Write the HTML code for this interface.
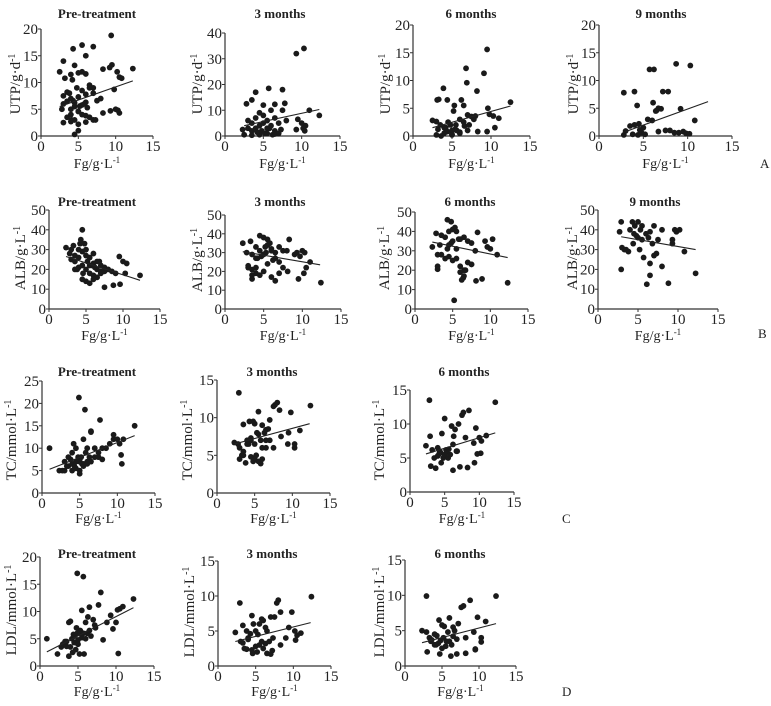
<!DOCTYPE html>
<html><head><meta charset="utf-8"><style>
html,body{margin:0;padding:0;background:#fff}
svg{display:block}
text{font-family:"Liberation Serif",serif;fill:#222}
</style></head><body>
<svg id="fig" width="771" height="706" viewBox="0 0 771 706" xmlns="http://www.w3.org/2000/svg"></svg>
<script>
// ---- data (Fg on x; outcome on y) ----
const A1x=[2.5,3,3.2,4.3,5.5,6,7,9.4,9.5,10.2,12.3,10.5,10.8,9.2,9.8,10,10.5,8.3,8.3,3,3.5,4,4.5,5,5.5,6,6.5,7,3,3.5,4,4.5,5,5.5,6,6.5,7,7.5,8,4,4.5,5,5.5,6,3.5,4,4.5,5,5.5,6,6.5,3,4,5,6,7,4.5,5,5.2,4.8,4.2,5.8,6.2,3.8,4.1,2.8,7.3,9.3,10.3,4.3];
const A1y=[12,14,10.8,16.3,17,15,16.7,18.8,13.3,12,12.6,11,10.8,12.8,8.7,5,4.3,12.5,4.3,7.5,8.2,11.5,13.2,11.8,12,11.6,9.5,9,6,6.5,7,6.2,7.3,8.5,7.8,9,8,6.6,7,5,5.5,4.6,5.8,6.3,3.5,4,3,4.6,4,3.8,3.5,2.5,2.7,2.2,2.6,3,0.3,1,5.6,9,10.5,6,5.3,8,3,5,3,4.7,4.8,6.6];
const A2x=[9.3,10.3,5.7,7.5,4,2.8,3.5,5,6.5,7.8,9.5,10,10.5,11,12.3,2.3,3,3.5,4,4.5,5,5.5,6,6.5,7,7.5,8,3,3.5,4,4.5,5,5.5,6,6.5,7,2.5,3.5,4.5,5.5,6.5,4.8,5.2,5.8,4.2,6.2,9.3,10.2,10.4,7.3];
const A2y=[32,34,18.5,18,17,12.5,14,12,12.3,12.7,6.5,5,4,10,8,2.5,6,5,7,9,8,6,10,7,5,10,6,3,2,3,4,5,3,4,2,1,0.5,0.3,0.5,1,0.8,2,1,3,1.5,0.5,2.5,3,2,2.5];
const A3x=[9.5,6.8,6.9,9.1,8.2,3.9,3.1,3.3,4.4,5.3,5.2,6.2,6.5,12.5,9.6,10.3,11,9.8,2.5,3,3.5,4,4.5,5,5.5,6,6.5,7,7.5,8,3,4,5,6,7,4.2,4.8,5.4,6,3.6,4.4,5,5.6,6.6,10.5,9.5,8.3,7.2,7.8,3.2];
const A3y=[15.6,12.2,9.6,11.3,8.1,8.6,6.5,6.6,6.5,5.5,4.5,6.5,5.5,6.1,5,3.6,3.2,3.9,2.8,2.6,2,1.5,2.5,1,2,3,2.5,3.8,3.5,3.6,0.2,0.5,0.3,0.7,1,1.5,2,1.2,0.5,0,0.8,0.2,1,1.8,1.5,0.8,0.8,2,3,1.2];
const A4x=[2.8,4,4.3,5.7,6.2,6.1,7.2,7.8,8.7,10.3,6.7,6.4,9.2,9.5,10.8,3,3.5,4,4.5,5,5.5,6,6.5,7,7.5,8,8.5,9,9.8,10.2,2.8,3.8,4.8,5.2,6.7,4.4,4.6];
const A4y=[7.8,8,5.5,12,12,6,8,8,13,12.7,5,4.5,4.9,0.8,2.8,0.9,1.8,2,2.2,1.5,3,2.8,4.6,4.9,1,1,0.6,0.6,0.5,0.4,0.2,0.3,0.6,0.3,0.8,0.2,1.1];
const B1x=[2.3,2.8,3,3.3,3.5,4,4.2,4.5,4.3,5,5.5,6,6.5,7,7.5,8,8.5,9,9.5,10,10.5,10.3,12.3,7.5,8.7,9.6,3,3.5,4,4.5,5,5.5,6,6.5,7,3.5,4,4.5,5,5.5,6,6.5,7,7.5,4.5,5,5.5,6,4.8,5.2,5.8,3.8,4.6,6.2,6.8];
const B1y=[31,28,30,32,27,30,33,40,35,30,26,28,24,22,21,20,19,18,26.5,24,23,18,17,11,12,12.5,25,24,26,29,27,22,23,20,19,20,21,22,20,18,17,16,18,19,15,14,13,15,33,24,22,20,18,21,24];
const B2x=[2.3,2.8,3,3.3,3.5,4,4.5,5,5.5,6,6.5,7,7.5,8,8.3,9,9.3,9.7,10,10.3,10.5,11,12.4,3,3.5,4,4.5,5,5.5,6,6.5,7,7.5,3.5,4,4.5,5,5.5,6,6.5,7,3.5,4.7,5.3,6.2,8.1,9.5,10.2,4,4.2,5.2,5.8];
const B2y=[35,30,23,36,29,33,39,38,37,32,30,33,31,31,37,29,30,28,31,30,22,25,14,22,21,27,31,29,34,31,27,25,22,16,19,18,20,24,17,15,19,18,28,30,26,20,16,19,22,27,33,35];
const B3x=[2.3,2.8,3,3,3.5,4,4.3,4.5,4.8,5,5.3,5.5,6,6.5,7,7.5,8,8.3,9.3,9.6,10,10.3,10.9,12.3,3.5,4,4.5,5,5.5,6,6.5,7,7.5,4.5,5,5.5,6,6.2,6.5,6.7,6.4,7.5,8.1,8.9,5.2,3,3.3,4.3,4.8,5.8];
const B3y=[32,39,22,20.5,38,37,46,40,45,41,42,40,36,37,35,34,30,39.5,35,32,31,36,28,13.5,28,26,27,25,26,22,20,24,23,33,35,31,19,15,17,20,16,23,14.5,15.5,4.5,28,33,31,34,36];
const B4x=[2.7,2.9,3,3.3,3.8,4,4.3,4.6,4.8,5,5.3,5.5,6,6.3,6.5,7,7.5,8,9.3,9.6,10.2,10.8,12.2,2.9,3.5,4.4,5.2,5.7,6.5,7,7.3,8,8.8,6.1,6.5,4.5,5,5.5,6.8,9.3,9.8];
const B4y=[39,44,31,30,29,40,44,42,37,44,40,42,38,36,39,42,35,40,35,40,40,29,18,20,30,33,30,26,23,27,28,21.5,13,12.5,17,38,36,35,33,33,39];
const C1x=[1,2.3,2.7,3,3.3,3.5,4,4.2,4.5,4.8,5,5.2,5.5,5.8,6,6.3,6.5,7,7.5,8,8.5,9,9.5,10,10.3,10.5,10.6,10.8,12.3,4.9,5.7,6.5,7.7,8,3,3.5,4,4.5,5,5.5,6,4,4.5,5,5.5,6,6.5,7,3.8,4.3,5,5.3,7.5,9.5];
const C1y=[10,5,5,7,6,8,9,11,10,8,7,8,12,9,10,8,13.6,10,9,10,10,11,12,12,11,8.5,6.5,12,15,21.3,18.6,13.8,16.3,7.5,5,6,6.5,7,7.5,6.5,7,5,5.5,4.3,6,6.5,7,8,7.5,6,5,6.5,8,13];
const C2x=[2.3,2.8,2.9,3,3.3,3.5,3.8,4,4.3,4.5,4.8,5,5.3,5.5,5.8,6,6.3,6.5,7,7.5,7.7,8,8.3,9.4,9.8,10.3,10.3,11,12.4,3,3.5,4,4.5,5,5.5,6,6.5,4.5,5,5.5,6,6.5,7,7.5,3.5,4.2,4.8,5.2,5.8,6.8,8.5,9.5];
const C2y=[6.7,6.5,13.3,6,5,9.1,4,6.5,9.5,7,9.5,9.2,8,10.8,7,9,8,8.4,9.7,11.5,11.7,12,11,6.5,10.7,6.5,6,8.3,11.6,4.5,5,7,7.3,6.5,7.8,6,7,4.8,4.5,4.2,4.5,6,7,6,5.5,6.5,4.2,5,3.9,8.5,7.5,8];
const C3x=[2.3,2.8,2.9,3,3.5,3.7,4,4.3,4.5,4.8,5,5.3,5.5,6,6.3,6.5,6.7,7,7.5,7.7,8,8.5,9.2,9.5,10,10.3,11,12.3,3.2,4.2,4.6,5.2,5.8,6.2,6.8,4,4.4,5,5.6,6.2,7.2,8.3,9.3,9.7,10.2];
const C3y=[6.8,13.5,8.2,3.8,5,3.5,6.5,6,4.3,5,10.8,6,5,9.7,8.2,9.2,6,10,11.3,11.7,8,12,7.2,9.4,8,7.5,8.3,13.2,6.2,5.6,8.6,6.2,5.5,7,6,5.3,5.8,5.5,6.3,3.2,3.7,3.6,4.3,5.6,5.7];
const D1x=[0.9,2.3,2.8,3,3.3,3.5,3.8,4,4.2,4.5,4.9,5,5.3,5.5,5.7,6,6.3,6.5,7,7.3,7.7,8,8.3,8.8,9.3,9.6,10,10.2,10.3,10.5,10.9,12.3,4.9,5.7,3.8,4.3,4.7,5.2,5.8,6.2,6.7,4,4.5,5,5.5,6,3.5,4.4,5.3,4.8,6.5,7.2];
const D1y=[5,2.2,3.5,4,4.5,3.6,8,8.2,5,5.5,6,4,6,10.2,6,8,9,10.8,8.5,7,11.2,13.5,4.8,8,9.3,6.8,8,10.3,2.3,10.5,10.9,12.3,17,16.4,1.8,2.5,3,2.2,2.2,6,5.5,3.5,4.3,4.8,5.2,5,4.5,5.8,6.5,7,6.5,7.5];
const D2x=[2.3,2.9,3,3.3,3.5,3.8,4,4.3,4.5,4.7,5,5.3,5.5,5.8,6,6.3,6.5,6.8,7,7.3,7.5,7.8,8,8.3,9,9.4,9.8,10.2,10.5,11,12.4,3.3,3.8,4.5,5,5.5,6,6.5,7,4,4.6,5.2,5.8,6.3,7.2,8.3,10.3];
const D2y=[4.8,9,3.5,5.8,2.5,5,4,4.6,7.2,6,5,4.5,6,6.7,6.5,5.5,5,3.5,7,4,7,9,9.4,7.7,4,5.5,7.7,5,4.4,4.7,9.9,3.3,2.4,2.3,2.8,3,2.5,1.8,1.7,3.8,1.8,2,3.5,3.2,2.2,3,3.7];
const D3x=[2.3,2.9,2.9,3,3.3,3.6,4,4.3,4.6,4.7,5,5.3,5.6,6,6.2,6.5,6.7,7,7.2,7.6,7.9,8.2,8.8,9.3,9.5,9.8,10.3,10.3,10.9,12.3,3.5,4,4.5,5,5.5,6,6.5,4.2,4.8,5.2,5.8,6.3,7,8.2,9.5];
const D3y=[5,9.9,4.8,2,4,3.7,4.5,4.3,6.5,1.7,5.8,5.6,3.5,6.8,1.4,5.5,5,3.8,6,8.3,8.5,4,9.3,4.8,2.4,6.9,4,3.4,6.3,9.9,3.5,3,3.2,2.5,2.8,3.5,4.2,3,3.6,4,4.8,3,1.7,1.8,2.3];
// regression line endpoints [x1,y1,x2,y2]
const fitA1=[2.5,5.5,12.3,10.3], fitA2=[2.5,4,12.3,10.3], fitA3=[2.5,1.5,12.5,5.4], fitA4=[3,0.8,12.3,6.2];
const fitB1=[2.3,26.5,12.3,14.5], fitB2=[2.3,30.5,12.3,23.5], fitB3=[2.3,34.5,12.3,26.5], fitB4=[2.9,36.5,12.2,30];
const fitC1=[1,5.3,12.3,12.8], fitC2=[2.3,6.5,12.3,9.2], fitC3=[2.3,5.6,12.3,8.7];
const fitD1=[0.9,2.6,12.3,10.7], fitD2=[2.3,3.5,12.3,6.2], fitD3=[2.3,3.3,12.3,6];
const xTicks=[0,5,10,15];

const NS="http://www.w3.org/2000/svg";
const svg=document.getElementById('fig');
function el(tag,attrs,parent){const e=document.createElementNS(NS,tag);for(const k in attrs)e.setAttribute(k,attrs[k]);(parent||svg).appendChild(e);return e;}

function panel(id,L,xs,ys,fit){
  const g=el('g',{});
  
  
  const sx=v=>L.x0+(L.x15-L.x0)*v/15;
  const sy=v=>L.y0-(L.y0-L.yT)*v/L.ymax;
  const ax=el('path',{d:`M${L.x0},${L.yT}V${L.y0}H${L.x15}`,stroke:'#333','stroke-width':1.2,fill:'none'},g);
  
  
  for(let v=0;v<=L.ymax;v+=L.step){
    const y=sy(v);
    el('line',{x1:L.x0-3,x2:L.x0,y1:y,y2:y,stroke:'#333','stroke-width':1},g);
    const t=el('text',{x:L.x0-3,y:y+5,'text-anchor':'end','font-size':15},g);
    t.textContent=v;
    
    
  }
  xTicks.forEach(v=>{
    const x=sx(v);
    el('line',{x1:x,x2:x,y1:L.y0,y2:L.y0+3,stroke:'#333','stroke-width':1},g);
    const t=el('text',{x:x,y:L.y0+15,'text-anchor':'middle','font-size':15},g);
    t.textContent=v;
    
    
  });
  const n=Math.min(xs.length,ys.length);
  for(let i=0;i<n;i++){
    const c=el('circle',{cx:sx(xs[i]),cy:sy(ys[i]),r:2.9,fill:'#1a1a1a'},g);
    
    
  }
  const ln=el('line',{x1:sx(fit[0]),y1:sy(fit[1]),x2:sx(fit[2]),y2:sy(fit[3]),stroke:'#222','stroke-width':1.1},g);
  
  
  const tt=el('text',{x:L.tx,y:L.ty,'text-anchor':'middle','font-size':13,'font-weight':'bold'},g);
  tt.textContent=L.title;
  
  
  const xl=el('text',{x:(L.x0+L.x15)/2,y:L.xly,'text-anchor':'middle','font-size':14},g);
  xl.innerHTML='Fg/g·L<tspan dy="-5" font-size="9">-1</tspan>';
  
  
  const yl=el('text',{transform:`translate(${L.ylx},${L.ylc}) rotate(-90)`,'text-anchor':'middle','font-size':15,fill:'#4a3320'},g);
  yl.innerHTML=L.yl+'<tspan dy="-5" font-size="10">-1</tspan>';
  
  
}
const U='UTP/g·d', AL='ALB/g·L', T='TC/mmol·L', LD='LDL/mmol·L';
panel('a1',{x0:41,x15:153,yT:29,y0:136,ymax:20,step:5,title:'Pre-treatment',tx:97,ty:18,xly:168,ylx:20,ylc:84,yl:U},A1x,A1y,fitA1);
panel('a2',{x0:225,x15:340,yT:33,y0:136,ymax:40,step:10,title:'3 months',tx:280,ty:18,xly:168,ylx:202,ylc:84,yl:U},A2x,A2y,fitA2);
panel('a3',{x0:413,x15:530,yT:25,y0:136,ymax:20,step:5,title:'6 months',tx:471,ty:18,xly:168,ylx:390,ylc:84,yl:U},A3x,A3y,fitA3);
panel('a4',{x0:599,x15:732,yT:25,y0:136,ymax:20,step:5,title:'9 months',tx:661,ty:18,xly:168,ylx:578,ylc:84,yl:U},A4x,A4y,fitA4);
panel('b1',{x0:49,x15:160,yT:210,y0:309,ymax:50,step:10,title:'Pre-treatment',tx:97,ty:206,xly:340,ylx:25,ylc:258,yl:AL},B1x,B1y,fitB1);
panel('b2',{x0:225,x15:341,yT:215,y0:309,ymax:50,step:10,title:'3 months',tx:280,ty:206,xly:340,ylx:202,ylc:260,yl:AL},B2x,B2y,fitB2);
panel('b3',{x0:415,x15:528,yT:212,y0:309,ymax:50,step:10,title:'6 months',tx:470,ty:206,xly:340,ylx:389,ylc:258,yl:AL},B3x,B3y,fitB3);
panel('b4',{x0:598,x15:718,yT:210,y0:309,ymax:50,step:10,title:'9 months',tx:655,ty:206,xly:340,ylx:577,ylc:258,yl:AL},B4x,B4y,fitB4);
panel('c1',{x0:42,x15:155,yT:381,y0:493,ymax:25,step:5,title:'Pre-treatment',tx:97,ty:376,xly:523,ylx:16,ylc:440,yl:T},C1x,C1y,fitC1);
panel('c2',{x0:217,x15:330,yT:380,y0:493,ymax:15,step:5,title:'3 months',tx:272,ty:376,xly:523,ylx:192,ylc:440,yl:T},C2x,C2y,fitC2);
panel('c3',{x0:410,x15:514,yT:390,y0:492,ymax:15,step:5,title:'6 months',tx:464,ty:376,xly:523,ylx:384,ylc:440,yl:T},C3x,C3y,fitC3);
panel('d1',{x0:40,x15:154,yT:557,y0:666,ymax:20,step:5,title:'Pre-treatment',tx:97,ty:558,xly:696,ylx:16,ylc:610,yl:LD},D1x,D1y,fitD1);
panel('d2',{x0:218,x15:331,yT:561,y0:666,ymax:15,step:5,title:'3 months',tx:272,ty:558,xly:696,ylx:194,ylc:612,yl:LD},D2x,D2y,fitD2);
panel('d3',{x0:405,x15:516,yT:560,y0:666,ymax:15,step:5,title:'6 months',tx:460,ty:558,xly:696,ylx:384,ylc:612,yl:LD},D3x,D3y,fitD3);
[['A',760,168],['B',758,338],['C',562,523],['D',562,696]].forEach(p=>{
  const t=el('text',{x:p[1],y:p[2],'font-size':13},svg);
  t.textContent=p[0];
  
  
});
</script>
</body></html>
